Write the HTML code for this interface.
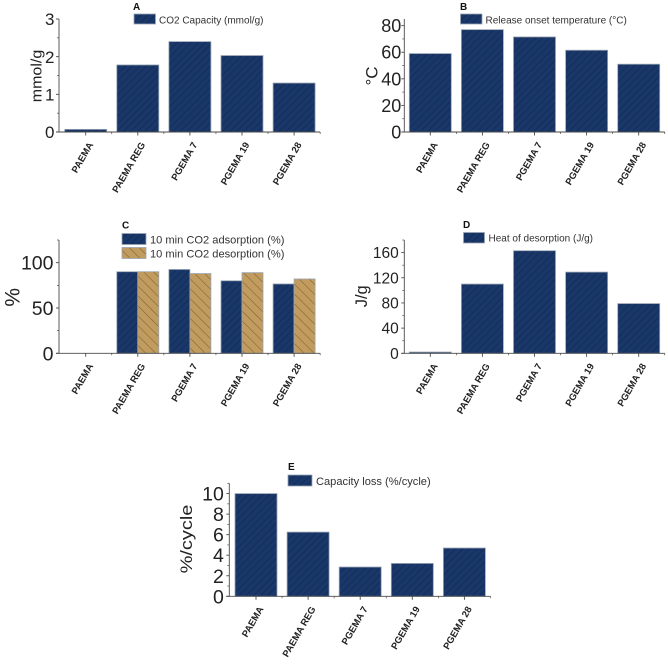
<!DOCTYPE html>
<html lang="en">
<head>
<meta charset="utf-8">
<title>Polymer sorbent comparison charts</title>
<style>
html,body{margin:0;padding:0;background:#fff;width:668px;height:665px;overflow:hidden}
svg{display:block;font-family:"Liberation Sans",sans-serif;filter:blur(0.3px)}
svg text{fill:#222}
.legend{font-size:10px;fill:#333}
.legend-lg{font-size:11.1px;fill:#333}
.letter{font-size:10px;font-weight:bold;fill:#111}
</style>
</head>
<body>
<svg id="figure" xmlns="http://www.w3.org/2000/svg" width="668" height="665" viewBox="0 0 668 665">
<defs>
<pattern id="hatch-navy" patternUnits="userSpaceOnUse" width="5" height="5" patternTransform="rotate(45)">
<rect width="5" height="5" fill="#1a3769"/>
<line x1="0" y1="0" x2="0" y2="5" stroke="#10284f" stroke-width="1.2"/>
</pattern>
<pattern id="hatch-tan" patternUnits="userSpaceOnUse" width="7" height="7" patternTransform="rotate(-45)">
<rect width="7" height="7" fill="#c29b5e"/>
<line x1="0" y1="0" x2="0" y2="7" stroke="#7a6238" stroke-width="1.1"/>
</pattern>
</defs>

<g id="panel-a">
<text class="letter" x="133" y="10">A</text>
<rect x="134" y="14" width="21.5" height="10" fill="url(#hatch-navy)" stroke="#9aa5b5" stroke-width="0.8"/>
<text class="legend" x="159" y="23.3">CO2 Capacity (mmol/g)</text>
<text transform="translate(41.5,76) rotate(-90) scale(1,0.9)" text-anchor="middle" font-size="16">mmol/g</text>
</g>

<g id="panel-b">
<text class="letter" x="460" y="10">B</text>
<rect x="460.5" y="14" width="21.5" height="10" fill="url(#hatch-navy)" stroke="#9aa5b5" stroke-width="0.8"/>
<text class="legend" x="485.5" y="23.3">Release onset temperature (°C)</text>
<text transform="translate(377.5,76) rotate(-90)" text-anchor="middle" font-size="17">°C</text>
</g>

<g id="panel-c">
<text class="letter" x="122" y="228.3">C</text>
<rect x="122" y="233.5" width="24" height="11" fill="url(#hatch-navy)" stroke="#9aa5b5" stroke-width="0.8"/>
<text class="legend-lg" x="150" y="243.5">10 min CO2 adsorption (%)</text>
<rect x="122" y="247.5" width="24" height="11" fill="url(#hatch-tan)" stroke="#9aa5b5" stroke-width="0.8"/>
<text class="legend-lg" x="150" y="257.3">10 min CO2 desorption (%)</text>
<text transform="translate(19.5,297.3) rotate(-90)" text-anchor="middle" font-size="21">%</text>
</g>

<g id="panel-d">
<text class="letter" x="463" y="228">D</text>
<rect x="463.5" y="232.5" width="21" height="10.5" fill="url(#hatch-navy)" stroke="#9aa5b5" stroke-width="0.8"/>
<text class="legend" x="488.5" y="241.5">Heat of desorption (J/g)</text>
<text transform="translate(367,296.3) rotate(-90)" text-anchor="middle" font-size="16.5">J/g</text>
</g>

<g id="panel-e">
<text class="letter" x="288" y="470">E</text>
<rect x="288" y="475" width="24" height="11" fill="url(#hatch-navy)" stroke="#9aa5b5" stroke-width="0.8"/>
<text class="legend-lg" x="316" y="485">Capacity loss (%/cycle)</text>
<text transform="translate(192,539) rotate(-90) scale(1,0.85)" text-anchor="middle" font-size="20">%/cycle</text>
</g>
</svg>

<script>
const categories = ["PAEMA", "PAEMA REG", "PGEMA 7", "PGEMA 19", "PGEMA 28"];

const co2Capacity = [0.07, 1.78, 2.4, 2.03, 1.3];
const releaseOnset = [59, 77, 71.5, 61.5, 51];
const adsorption10min = [0, 90, 92.5, 80, 76.5];
const desorption10min = [0, 90, 88, 89, 82];
const heatOfDesorption = [2, 110, 163, 129, 79];
const capacityLoss = [10, 6.25, 2.85, 3.2, 4.7];

const ticksA = [0, 1, 2, 3];
const ticksB = [0, 20, 40, 60, 80];
const ticksC = [0, 50, 100];
const ticksD = [0, 40, 80, 120, 160];
const ticksE = [0, 2, 4, 6, 8, 10];

const SVG_NS = "http://www.w3.org/2000/svg";
const AXIS_COLOR = "#4a4a4a";
const BAR_STROKE = "#9aa5b5";

function make(parent, tag, attrs) {
  const el = document.createElementNS(SVG_NS, tag);
  for (const key in attrs) el.setAttribute(key, attrs[key]);
  parent.appendChild(el);
  return el;
}

function drawPanel(o) {
  const g = document.getElementById(o.id);
  const xScale = function (i) { return o.firstCenter + i * o.step; };
  const yScale = function (v) { return o.y0 - (v / o.yMax) * (o.y0 - o.yTop); };
  const barW = 42;

  // bars
  const seriesW = barW / o.series.length;
  o.series.forEach(function (s, si) {
    s.values.forEach(function (v, i) {
      if (v <= 0) return;
      const x = xScale(i) - barW / 2 + si * seriesW;
      const bar = make(g, "rect", {
        x: x,
        y: yScale(v),
        width: seriesW,
        height: o.y0 - yScale(v),
        fill: "url(#" + s.pattern + ")",
        stroke: BAR_STROKE,
        "stroke-width": 0.8
      });
      
      
    });
  });

  // axes
  const xRight = xScale(categories.length - 1) + o.step / 2;
  const yAxis = make(g, "line", { x1: o.x0, x2: o.x0, y1: o.yTop, y2: o.y0, stroke: AXIS_COLOR, "stroke-width": 0.9 });
  
  
  const xAxis = make(g, "line", { x1: o.x0 - 3, x2: xRight, y1: o.y0, y2: o.y0, stroke: AXIS_COLOR, "stroke-width": 0.9 });
  
  

  // y ticks and labels
  o.ticks.forEach(function (t, i) {
    const y = yScale(t);
    const tick = make(g, "line", { x1: o.x0 - 3, x2: o.x0, y1: y, y2: y, stroke: AXIS_COLOR, "stroke-width": 0.9 });
    
    
    const label = make(g, "text", {
      x: o.x0 - o.labelGap,
      y: y + o.tickFont * 0.36,
      "text-anchor": "end",
      "font-size": o.tickFont
    });
    label.textContent = t;
    
    
    const next = i + 1 < o.ticks.length ? o.ticks[i + 1] : t + (t - o.ticks[i - 1]);
    const mid = (t + next) / 2;
    if (mid <= o.yMax) {
      const minor = make(g, "line", { x1: o.x0 - 2, x2: o.x0, y1: yScale(mid), y2: yScale(mid), stroke: AXIS_COLOR, "stroke-width": 0.7 });
      
      
    }
  });

  // x ticks and labels
  categories.forEach(function (c, i) {
    const x = xScale(i);
    const tick = make(g, "line", { x1: x, x2: x, y1: o.y0, y2: o.y0 + 3.5, stroke: AXIS_COLOR, "stroke-width": 0.9 });
    
    
    const mx = x + o.step / 2;
    const minor = make(g, "line", { x1: mx, x2: mx, y1: o.y0, y2: o.y0 + 2, stroke: AXIS_COLOR, "stroke-width": 0.7 });
    
    
    const lx = x + 7.8;
    const ly = o.y0 + 12.5;
    const label = make(g, "text", {
      transform: "translate(" + lx + "," + ly + ") rotate(-60)",
      "text-anchor": "end",
      "font-size": 9.5,
      "font-weight": "bold"
    });
    label.textContent = c;
    
    
  });
}

drawPanel({ id: "panel-a", x0: 59, y0: 132, yTop: 19, yMax: 3, firstCenter: 85.7, step: 52.1, tickFont: 17, labelGap: 4.5, ticks: ticksA,
  series: [{ values: co2Capacity, pattern: "hatch-navy" }] });
drawPanel({ id: "panel-b", x0: 404.3, y0: 132, yTop: 19, yMax: 85, firstCenter: 430.3, step: 52.1, tickFont: 18, labelGap: 3, ticks: ticksB,
  series: [{ values: releaseOnset, pattern: "hatch-navy" }] });
drawPanel({ id: "panel-c", x0: 59, y0: 353.3, yTop: 240, yMax: 125, firstCenter: 85.7, step: 52.1, tickFont: 19.5, labelGap: 5.5, ticks: ticksC,
  series: [{ values: adsorption10min, pattern: "hatch-navy" }, { values: desorption10min, pattern: "hatch-tan" }] });
drawPanel({ id: "panel-d", x0: 404.3, y0: 353.3, yTop: 240, yMax: 180, firstCenter: 430.3, step: 52.1, tickFont: 15.5, labelGap: 5.5, ticks: ticksD,
  series: [{ values: heatOfDesorption, pattern: "hatch-navy" }] });
drawPanel({ id: "panel-e", x0: 229.3, y0: 596.3, yTop: 483.3, yMax: 11, firstCenter: 256, step: 52.1, tickFont: 19.5, labelGap: 5.5, ticks: ticksE,
  series: [{ values: capacityLoss, pattern: "hatch-navy" }] });
</script>
</body>
</html>
